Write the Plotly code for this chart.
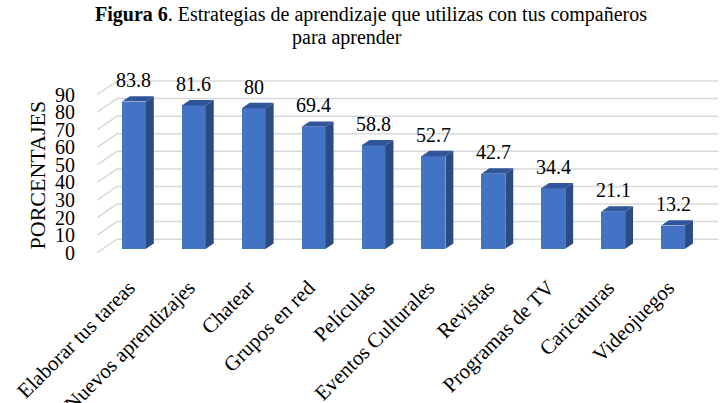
import plotly.graph_objects as go

categories = ["Elaborar tus tareas", "Nuevos aprendizajes", "Chatear", "Grupos en red",
              "Películas", "Eventos Culturales", "Revistas", "Programas de TV",
              "Caricaturas", "Videojuegos"]
values = [83.8, 81.6, 80, 69.4, 58.8, 52.7, 42.7, 34.4, 21.1, 13.2]
y_ticks = [0, 10, 20, 30, 40, 50, 60, 70, 80, 90]
value_labels = ["83.8", "81.6", "80", "69.4", "58.8", "52.7", "42.7", "34.4", "21.1", "13.2"]

FONT = "Liberation Serif, Times New Roman, serif"
FRONT = "#4472C4"
SIDE = "#2B4B82"
TOP = "#30559A"
GRID = "#D9D9D9"

# 3D geometry (in data units)
X0, X1 = -0.7, 9.8
Y0, Y1 = -3, 100
WALL_DX, WALL_DY = 0.33, 7.7        # full depth of the floor
F_FRONT, F_BACK = 0.29, 0.69        # bar depth fractions
BAR_W = 0.4
wall_left = -0.613
wall_right = 9.755

bdx = (F_BACK - F_FRONT) * WALL_DX
bdy = (F_BACK - F_FRONT) * WALL_DY
base = F_FRONT * WALL_DY

fig = go.Figure()

# back wall gridlines + left wall diagonals (below the bars)
for v in y_ticks:
    fig.add_shape(type="path", xref="x", yref="y", layer="below",
                  path=f"M {wall_left},{v} L {wall_left + WALL_DX},{v + WALL_DY} L {wall_right},{v + WALL_DY}",
                  line=dict(color=GRID, width=1.5))

# front faces
fig.add_trace(go.Bar(x=list(range(len(values))), y=values, base=base, width=BAR_W,
                     marker=dict(color=FRONT, line=dict(width=0)),
                     hoverinfo="skip", showlegend=False))

# side and top faces
sx, sy = [], []
tx, ty = [], []
for i, v in enumerate(values):
    r = i + BAR_W / 2
    l = i - BAR_W / 2
    top = base + v
    sx += [r, r, r + bdx, r + bdx, r, None]
    sy += [base, top, top + bdy, base + bdy, base, None]
    tx += [l, r, r + bdx, l + bdx, l, None]
    ty += [top, top, top + bdy, top + bdy, top, None]
fig.add_trace(go.Scatter(x=sx, y=sy, mode="lines", fill="toself", fillcolor=SIDE,
                         line=dict(width=0, color=SIDE), hoverinfo="skip", showlegend=False))
fig.add_trace(go.Scatter(x=tx, y=ty, mode="lines", fill="toself", fillcolor=TOP,
                         line=dict(width=0, color=TOP), hoverinfo="skip", showlegend=False))

# value labels
for i, (v, t) in enumerate(zip(values, value_labels)):
    fig.add_annotation(x=i, y=base + v + bdy, text=t, showarrow=False,
                       xanchor="center", yanchor="bottom", yshift=3,
                       font=dict(family=FONT, size=20, color="black"))

# title
fig.add_annotation(xref="paper", yref="paper", x=0.4436, y=1.0, xanchor="center", yanchor="bottom",
                   yshift=49, showarrow=False,
                   text="<b>Figura 6</b>. Estrategias de aprendizaje que utilizas con tus compañeros",
                   font=dict(family=FONT, size=20, color="black"))
fig.add_annotation(xref="paper", yref="paper", x=0.405, y=1.0, xanchor="center", yanchor="bottom",
                   yshift=26, showarrow=False, text="para aprender",
                   font=dict(family=FONT, size=20, color="black"))

# y axis title
fig.add_annotation(xref="paper", yref="paper", x=-0.086, y=0.461, xanchor="center", yanchor="middle",
                   showarrow=False, textangle=-90, text="PORCENTAJES",
                   font=dict(family=FONT, size=22, color="black"))

fig.update_layout(
    width=728, height=403,
    margin=dict(l=92, r=7, t=77, b=145),
    paper_bgcolor="white", plot_bgcolor="white",
    font=dict(family=FONT, size=20, color="black"),
    bargap=0,
)
fig.update_xaxes(range=[X0, X1], tickvals=list(range(len(categories))), ticktext=categories,
                 tickangle=-45, showgrid=False, zeroline=False, showline=False, automargin=False,
                 ticks="outside", ticklen=8, tickcolor="rgba(0,0,0,0)", ticklabelshift=-5,
                 tickfont=dict(family=FONT, size=21, color="black"))
fig.update_yaxes(range=[Y0, Y1], tickvals=y_ticks, showgrid=False, zeroline=False, showline=False,
                 automargin=False,
                 ticks="outside", ticklen=12, tickcolor="rgba(0,0,0,0)",
                 tickfont=dict(family=FONT, size=20, color="black"))

fig.write_html("out.html", config={"displayModeBar": False},
               post_script="document.body.style.margin='0';")
